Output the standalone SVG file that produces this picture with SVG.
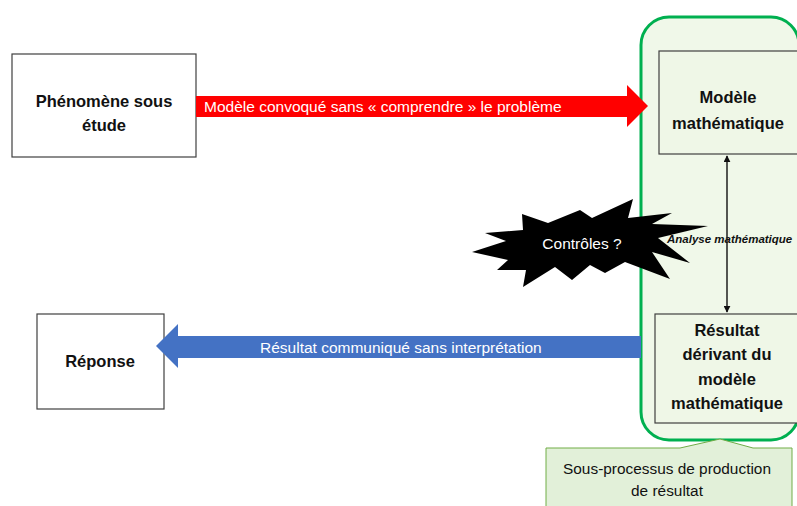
<svg xmlns="http://www.w3.org/2000/svg" width="797" height="506" viewBox="0 0 797 506">
<defs>
<style>
.box{fill:#ffffff;stroke:#404040;stroke-width:1.2}
.ibox{fill:#EFF7E7;stroke:#404040;stroke-width:1.2}
.t{font-family:"Liberation Sans",Arial,sans-serif;}
.b{font-weight:bold;font-size:16.5px;fill:#111;text-anchor:middle}
.w{font-size:15.5px;fill:#ffffff}
</style>
<marker id="ah" viewBox="0 0 10 10" refX="9" refY="5" markerWidth="5" markerHeight="5" orient="auto-start-reverse">
<path d="M0,0 L10,5 L0,10 z" fill="#111"/>
</marker>
</defs>
<rect width="797" height="506" fill="#ffffff"/>

<g id="container">
<rect x="641" y="17" width="158" height="423" rx="28" ry="28" fill="#F0F8E9" stroke="#00B050" stroke-width="3"/>
</g>

<g id="phenomene">
<rect class="box" x="12" y="54" width="184" height="103"/>
<text class="t b" x="104" y="107">Phénomène sous</text>
<text class="t b" x="104" y="131">étude</text>
</g>

<g id="modele">
<rect class="ibox" x="659" y="51" width="145" height="103"/>
<text class="t b" x="728" y="103">Modèle</text>
<text class="t b" x="728" y="129">mathématique</text>
</g>

<g id="resultat">
<rect class="ibox" x="655" y="314" width="149" height="109"/>
<text class="t b" x="727" y="336">Résultat</text>
<text class="t b" x="727" y="360">dérivant du</text>
<text class="t b" x="727" y="385">modèle</text>
<text class="t b" x="727" y="409">mathématique</text>
</g>

<g id="reponse">
<rect class="box" x="37" y="314" width="127" height="95"/>
<text class="t b" x="100" y="367">Réponse</text>
</g>

<g id="connectors">
<polygon points="196,96 627,96 627,85 648,106 627,127 627,117 196,117" fill="#FF0000"/>
<text class="t w" x="204" y="111.5">Modèle convoqué sans « comprendre » le problème</text>
<polygon points="641,336 178,336 178,324 156,346 178,368 178,358 641,358" fill="#4472C4"/>
<text class="t w" x="260" y="352.5">Résultat communiqué sans interprétation</text>
<line x1="727" y1="156" x2="727" y2="312" stroke="#111" stroke-width="1.4" marker-start="url(#ah)" marker-end="url(#ah)"/>
<text class="t" x="667" y="243" font-size="11.5" font-weight="bold" font-style="italic" fill="#111">Analyse mathématique</text>
</g>

<g id="controles">
<polygon points="472,252 506,241 485,233 523,230 522,214 548,223 580,210 592,218 633,199 628,218 672,213 652,224 708,226 658,238 690,263 652,252 670,279 625,262 605,273 590,265 572,280 555,267 523,287 526,270 497,270 508,260" fill="#000000"/>
<text class="t" x="582" y="249" font-size="15.5" fill="#ffffff" text-anchor="middle">Contrôles ?</text>
</g>

<g id="callout">
<polygon points="546,448 680,448 720,439 753,448 792,448 792,510 546,510" fill="#E2F0D9" stroke="#70AD47" stroke-width="1"/>
<text class="t" x="667" y="474" font-size="15.4" fill="#111" text-anchor="middle">Sous-processus de production</text>
<text class="t" x="667" y="496" font-size="15.4" fill="#111" text-anchor="middle">de résultat</text>
</g>
</svg>
